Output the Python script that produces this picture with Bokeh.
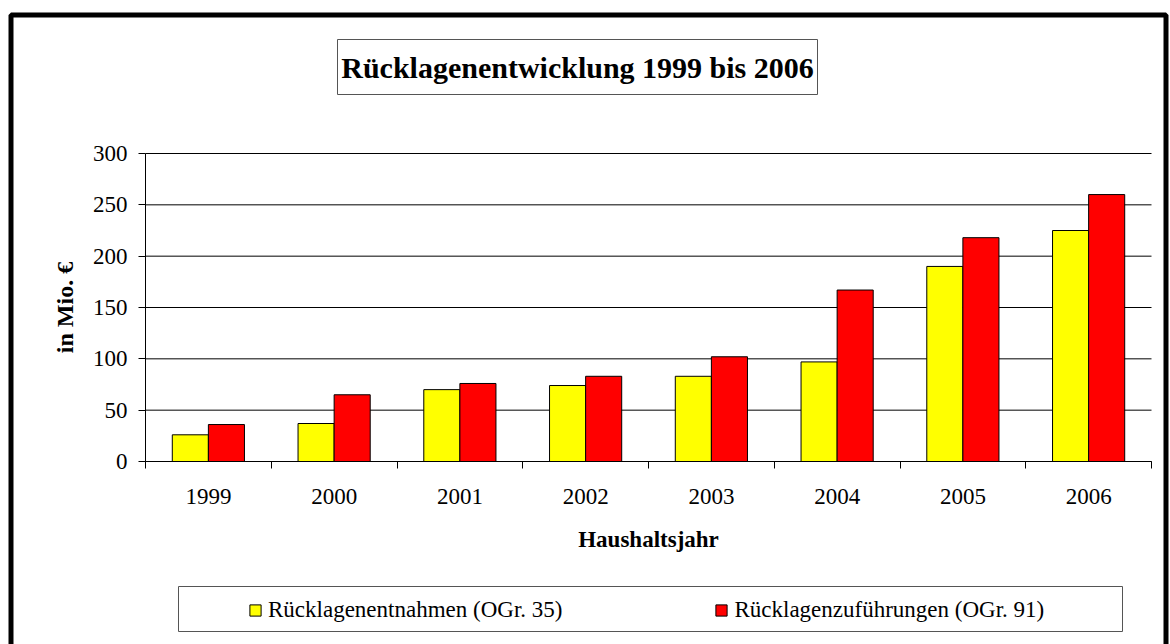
import numpy as np
from bokeh.plotting import figure
from bokeh.models import (Range1d, FixedTicker, Legend, LegendItem, BoxAnnotation, Label)
from bokeh.embed import file_html
from bokeh.resources import INLINE

# ---- data ----
years = ["1999", "2000", "2001", "2002", "2003", "2004", "2005", "2006"]
entnahmen = [26, 37, 70, 74, 83, 97, 190, 225]        # Rücklagenentnahmen (OGr. 35)
zufuehrungen = [36, 65, 76, 83, 102, 167, 218, 260]   # Rücklagenzuführungen (OGr. 91)
y_ticks = [0, 50, 100, 150, 200, 250, 300]
title_text = "Rücklagenentwicklung 1999 bis 2006"
series_names = ["Rücklagenentnahmen (OGr. 35)", "Rücklagenzuführungen (OGr. 91)"]
x_label = "Haushaltsjahr"
y_label = "in Mio. €"

# ---- layout (pixels) ----
FONT = "Liberation Serif"
W, H = 1170, 644
PL, PR, PT, PB = 145, 1151, 153, 461   # plot area edges
n = len(years)
ymax = y_ticks[-1]

def dx(px):
    return (px - PL) / (PR - PL) * n

def dy(py):
    return (PB - py) / (PB - PT) * ymax

centers = np.arange(n) + 0.5
bw = 0.287

p = figure(width=W, height=H, output_backend="svg", toolbar_location=None,
           x_range=Range1d(dx(0), dx(W)), y_range=Range1d(dy(H), dy(0)),
           min_border_left=0, min_border_right=0, min_border_top=0, min_border_bottom=0)
p.background_fill_color = "white"
p.border_fill_color = "white"
p.outline_line_color = None
p.xgrid.visible = False
p.ygrid.visible = False

# horizontal grid lines over the plot area
p.segment(x0=[0] * len(y_ticks), x1=[n] * len(y_ticks), y0=y_ticks, y1=y_ticks,
          line_color="black", line_width=1)

r1 = p.vbar(x=centers - bw / 2, width=bw, top=entnahmen, bottom=0,
            fill_color="#FFFF00", line_color="black", line_width=1)
r2 = p.vbar(x=centers + bw / 2, width=bw, top=zufuehrungen, bottom=0,
            fill_color="#FF0000", line_color="black", line_width=1)

# x axis
xa = p.xaxis[0]
xa.fixed_location = 0
xa.bounds = (0, n)
xa.ticker = FixedTicker(ticks=list(centers), minor_ticks=list(range(n + 1)))
xa.major_label_overrides = {float(c): y for c, y in zip(centers, years)}
xa.major_tick_out = 0
xa.major_tick_in = 0
xa.major_tick_line_color = None
xa.minor_tick_out = 7
xa.minor_tick_in = 0
xa.minor_tick_line_color = "black"
xa.axis_line_color = "black"
xa.major_label_text_font = FONT
xa.major_label_text_font_size = "23px"
xa.major_label_text_color = "black"
xa.major_label_standoff = 20
xa.axis_label = x_label
xa.axis_label_text_font = FONT
xa.axis_label_text_font_style = "bold"
xa.axis_label_text_font_size = "23px"
xa.axis_label_text_color = "black"
xa.axis_label_standoff = 20

# y axis
ya = p.yaxis[0]
ya.fixed_location = 0
ya.bounds = (0, ymax)
ya.ticker = FixedTicker(ticks=y_ticks, minor_ticks=[])
ya.major_tick_out = 7
ya.major_tick_in = 0
ya.major_tick_line_color = "black"
ya.minor_tick_line_color = None
ya.axis_line_color = "black"
ya.major_label_text_font = FONT
ya.major_label_text_font_size = "23px"
ya.major_label_text_color = "black"
ya.major_label_standoff = 11
ya.axis_label = y_label
ya.axis_label_text_font = FONT
ya.axis_label_text_font_style = "bold"
ya.axis_label_text_font_size = "24px"
ya.axis_label_text_color = "black"
ya.axis_label_standoff = 12

# title box + title
p.add_layout(BoxAnnotation(left=dx(337), right=dx(817), top=dy(39), bottom=dy(94),
                           fill_color="white", fill_alpha=1,
                           line_color="#555555", line_alpha=1, line_width=1))
p.add_layout(Label(x=dx(577), y=dy(66.5),
                   text=title_text, text_align="center", text_baseline="middle",
                   text_font=FONT, text_font_style="bold", text_font_size="30px",
                   text_color="black"))

# legend box + legend
p.add_layout(BoxAnnotation(left=dx(178), right=dx(1122), top=dy(586), bottom=dy(631),
                           fill_alpha=0, line_color="#555555", line_alpha=1, line_width=1))
legend = Legend(items=[LegendItem(label=series_names[0], renderers=[r1]),
                       LegendItem(label=series_names[1], renderers=[r2])],
                orientation="horizontal", location=(248, 21),
                glyph_width=14, glyph_height=14, label_standoff=6, spacing=152,
                padding=0, margin=0, border_line_color=None, background_fill_alpha=0,
                label_text_font=FONT, label_text_font_size="23px", label_text_color="black")
p.add_layout(legend)

# outer border
p.add_layout(BoxAnnotation(left=dx(10.5), right=dx(1165.5), top=dy(14.5), bottom=dy(700),
                           fill_alpha=0, line_color="black", line_alpha=1, line_width=5))

open("out.html", "w").write(file_html(p, INLINE))
